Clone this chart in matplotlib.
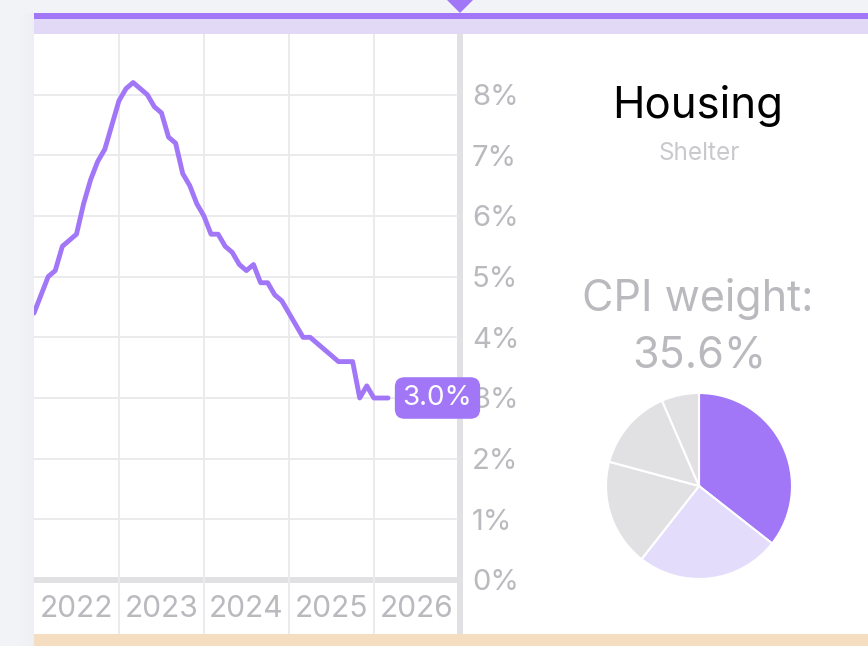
import matplotlib.pyplot as plt
from matplotlib.patches import Rectangle, Polygon
import numpy as np

plt.rcParams['font.family'] = ['Inter', 'DejaVu Sans']

# shelter CPI, year-over-year %, monthly from Jan 2022
shelter_yoy = [4.4, 4.7, 5.0, 5.1, 5.5, 5.6, 5.7, 6.2, 6.6, 6.9, 7.1, 7.5,
               7.9, 8.1, 8.2, 8.1, 8.0, 7.8, 7.7, 7.3, 7.2, 6.7, 6.5, 6.2,
               6.0, 5.7, 5.7, 5.5, 5.4, 5.2, 5.1, 5.2, 4.9, 4.9, 4.7, 4.6,
               4.4, 4.2, 4.0, 4.0, 3.9, 3.8, 3.7, 3.6, 3.6, 3.6, 3.0, 3.2,
               3.0, 3.0, 3.0]
start_year = 2022
years = [2022, 2023, 2024, 2025, 2026]
y_ticks = [0, 1, 2, 3, 4, 5, 6, 7, 8]

# CPI weight pie (shelter first)
weights = [35.6, 25.0, 18.6, 14.3, 6.5]

title = "Housing"
subtitle = "Shelter"
weight_label = "CPI weight:"
weight_value = "35.6%"

PURPLE = "#a277f7"
LAVENDER = "#e2d9f7"
PIE_LAV = "#e4dcfb"
GREY_SLICE = "#e1e1e4"
GRID = "#ebebed"
SEP = "#e1e1e4"
TXT = "#b9b9be"
PEACH = "#f5ddc2"
BG = "#f2f3f7"

W, H = 868, 646
fig = plt.figure(figsize=(W / 100, H / 100), dpi=100)
fig.patch.set_facecolor(BG)


def box(x0, y0, x1, y1):
    # pixel box (top-left origin) -> figure fraction rect
    return [x0 / W, 1 - y1 / H, (x1 - x0) / W, (y1 - y0) / H]


def rect(x0, y0, x1, y1, color, z=-1, alpha=1.0):
    b = box(x0, y0, x1, y1)
    fig.patches.append(Rectangle((b[0], b[1]), b[2], b[3], transform=fig.transFigure,
                                 facecolor=color, edgecolor="none", zorder=z, alpha=alpha))


# card background and shadow (kept below the axes)
for i in range(14):
    rect(20 + i, 13, 21 + i, 646, "#d8dae2", z=-3, alpha=0.02 * (i + 1) / 2)
rect(34, 19, 868, 646, "white", z=-2)
rect(34, 13, 868, 19, PURPLE, z=-1)
rect(34, 19, 868, 34, LAVENDER, z=-1)
rect(34, 634, 868, 646, PEACH, z=-1)
tri = [(447 / W, 1.0), (473 / W, 1.0), (460 / W, 1 - 13 / H)]
fig.patches.append(Polygon(tri, closed=True, transform=fig.transFigure,
                           facecolor=PURPLE, edgecolor="none", zorder=-1))

# line chart
ax = fig.add_axes(box(34, 34, 458, 580))
ax.set_facecolor("none")
x = start_year + np.arange(len(shelter_yoy)) / 12
ax.plot(x, shelter_yoy, color=PURPLE, lw=3.5, solid_joinstyle="round",
        solid_capstyle="round", zorder=3)
ax.set_xlim(start_year, start_year + 4.99)
ax.set_ylim(0, 9)
for yr in years[1:]:
    ax.axvline(yr, color=GRID, lw=1.4, zorder=1)
for t in y_ticks[1:]:
    ax.axhline(t, color=GRID, lw=1.4, zorder=1)
ax.set_yticks(y_ticks)
ax.set_yticklabels([f"{t}%" for t in y_ticks])
ax.yaxis.tick_right()
ax.tick_params(axis="y", length=0, pad=10, labelsize=21, labelcolor=TXT)
ax.set_xticks([])
for s in ax.spines.values():
    s.set_visible(False)

ax.annotate(f"{shelter_yoy[-1]:.1f}%", xy=(x[-1], shelter_yoy[-1]),
            xytext=(10.5, 0), textcoords="offset points", ha="left", va="center",
            fontsize=20, color="white", zorder=6, annotation_clip=False,
            bbox=dict(boxstyle="round,pad=0.28,rounding_size=0.35", fc=PURPLE, ec="none"))

# year label strip
axl = fig.add_axes(box(34, 580, 458, 634))
axl.set_facecolor("none")
axl.set_xlim(start_year, start_year + 4.99)
axl.set_ylim(0, 1)
for yr in years[1:]:
    axl.axvline(yr, color=GRID, lw=1.4)
for yr in years:
    axl.text(yr + 0.5, 0.47, str(yr), ha="center", va="center", fontsize=21.5, color=TXT)
axl.axis("off")

# axis baseline and separator
rect(34, 577, 460, 583, SEP, z=-0.5)
rect(457, 34, 463, 634, SEP, z=-0.5)

# right panel text
fig.text(698 / W, 1 - 106 / H, title, ha="center", va="center", fontsize=31.5, color="black")
fig.text(699 / W, 1 - 153 / H, subtitle, ha="center", va="center", fontsize=17.5, color="#c9c9cd")
fig.text(698 / W, 1 - 299 / H, weight_label, ha="center", va="center", fontsize=31, color=TXT)
fig.text(699 / W, 1 - 356 / H, weight_value, ha="center", va="center", fontsize=31, color=TXT)

# pie
r = 93
axp = fig.add_axes(box(699 - r, 486 - r, 699 + r, 486 + r))
axp.pie(weights, colors=[PURPLE, PIE_LAV, GREY_SLICE, GREY_SLICE, GREY_SLICE],
        startangle=90, counterclock=False,
        wedgeprops=dict(edgecolor="white", linewidth=1.5))
axp.set_xlim(-1, 1)
axp.set_ylim(-1, 1)
axp.set_aspect("equal")

fig.savefig("out.png", dpi=100, facecolor=fig.get_facecolor())
